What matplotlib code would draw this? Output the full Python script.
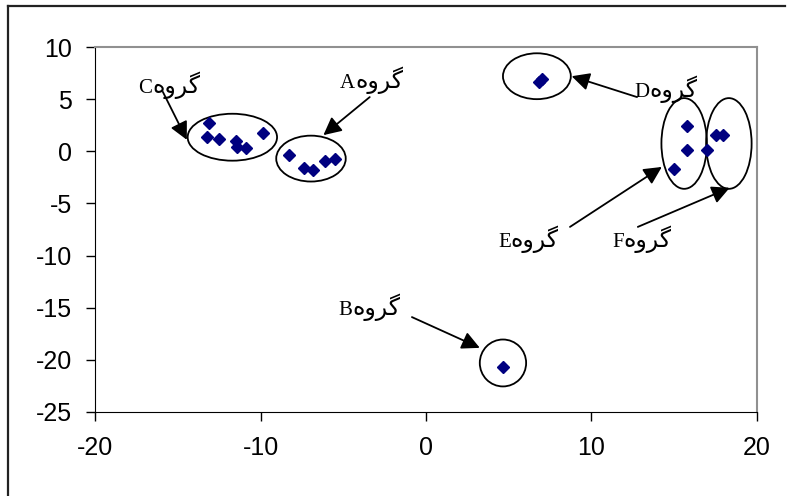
import matplotlib.pyplot as plt
from matplotlib.patches import Ellipse
from matplotlib.lines import Line2D

plt.rcParams['axes.unicode_minus'] = False

# data points
x_vals = [-13.1, -13.25, -12.5, -11.5, -11.45, -10.9, -9.85,
          -8.3, -7.4, -6.8, -6.1, -5.5,
          6.8, 7.0,
          15.75, 15.75, 15.0,
          17.0, 17.5, 17.95,
          4.65]
y_vals = [2.7, 1.4, 1.2, 1.0, 0.45, 0.3, 1.75,
          -0.35, -1.6, -1.8, -0.9, -0.75,
          6.6, 6.9,
          2.45, 0.1, -1.7,
          0.1, 1.6, 1.6,
          -20.7]

# group ellipses: centre x, centre y, width, height
groups = ['C', 'A', 'D', 'E', 'F', 'B']
ell_cx = [-11.7, -6.95, 6.7, 15.6, 18.3, 4.65]
ell_cy = [1.35, -0.7, 7.2, 0.75, 0.75, -20.3]
ell_w = [5.4, 4.2, 4.1, 2.75, 2.75, 2.8]
ell_h = [4.5, 4.4, 4.4, 8.7, 8.7, 4.5]

# label position and arrow (start -> tip)
lab_x = [-17.4, -5.2, 12.6, 4.35, 11.25, -5.3]
lab_y = [5.6, 6.1, 5.2, -9.2, -9.2, -15.7]
arr_x0 = [-15.9, -3.4, 12.75, 8.7, 12.8, -0.85]
arr_y0 = [5.7, 5.2, 5.2, -7.25, -7.25, -15.9]
arr_x1 = [-14.45, -6.2, 8.8, 14.25, 18.35, 3.25]
arr_y1 = [1.1, 1.55, 7.2, -1.5, -3.5, -18.85]

# width of each latin letter (em) so the persian word follows it
letter_em = {'C': 0.667, 'A': 0.722, 'D': 0.722, 'E': 0.611, 'F': 0.556, 'B': 0.667}

# "گروه" written in visual order with presentation forms
word = '\ufee9\ufeed\ufeae\ufb94'

fig = plt.figure(figsize=(7.93, 4.96), dpi=100)
ax = fig.add_axes([0.1198, 0.1694, 0.8348, 0.7358])

ax.plot(x_vals, y_vals, 'D', color='#000080', markersize=6.5, linestyle='none')

for i in range(len(groups)):
    ax.add_patch(Ellipse((ell_cx[i], ell_cy[i]), ell_w[i], ell_h[i],
                         fill=False, edgecolor='black', linewidth=1.3))
    ax.annotate('', xy=(arr_x1[i], arr_y1[i]), xytext=(arr_x0[i], arr_y0[i]),
                arrowprops=dict(arrowstyle='-|>', color='black', lw=1.3,
                                mutation_scale=27, shrinkA=0, shrinkB=0))
    ax.text(lab_x[i], lab_y[i], groups[i], fontsize=15,
            family='Liberation Serif', va='baseline', ha='left')
    ax.annotate(word, xy=(lab_x[i], lab_y[i]), xycoords='data',
                xytext=(letter_em[groups[i]] * 15, 0), textcoords='offset points',
                fontsize=17, family='DejaVu Sans', va='baseline', ha='left')

ax.set_xlim(-20, 20)
ax.set_ylim(-25, 10)
ax.set_xticks([-20, -10, 0, 10, 20])
ax.set_yticks([10, 5, 0, -5, -10, -15, -20, -25])
ax.tick_params(direction='out', length=6.5, width=1, labelsize=18)
ax.tick_params(axis='x', pad=11)
ax.tick_params(axis='y', pad=10)
for lab in ax.get_xticklabels() + ax.get_yticklabels():
    lab.set_family('Liberation Sans')
ax.spines['top'].set_color('#909090')
ax.spines['right'].set_color('#909090')
ax.spines['top'].set_linewidth(1.5)
ax.spines['right'].set_linewidth(1.5)

# outer frame (left and top only)
fig.add_artist(Line2D([8 / 793, 8 / 793], [0, 1 - 6 / 496], color='#222222', lw=1.6))
fig.add_artist(Line2D([8 / 793, 785 / 793], [1 - 6 / 496, 1 - 6 / 496], color='#222222', lw=1.6))

fig.savefig('out.png', dpi=100)
